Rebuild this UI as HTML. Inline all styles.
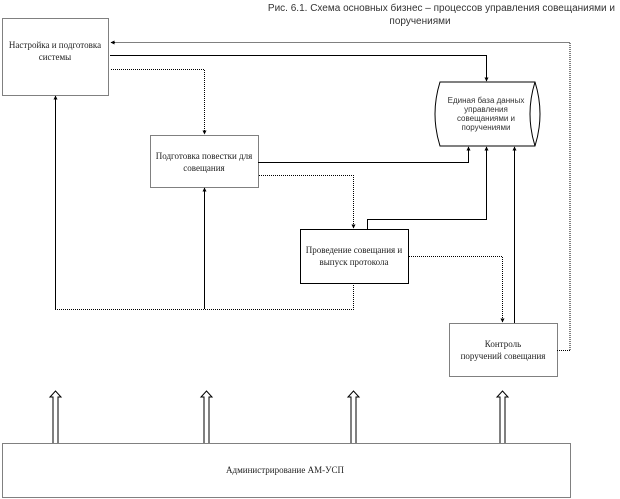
<!DOCTYPE html>
<html><head><meta charset="utf-8"><style>
html,body{margin:0;padding:0;background:#fff;width:620px;height:499px;overflow:hidden}
svg{display:block}
.s{font-family:"Liberation Serif","Noto Serif CJK SC",serif;font-size:9px;fill:#222}
.a{font-family:"Liberation Sans","Noto Sans CJK SC",sans-serif;font-size:10px;fill:#333}
</style></head><body>
<svg width="620" height="499" viewBox="0 0 620 499" xmlns="http://www.w3.org/2000/svg">
<defs><marker id="ar" markerWidth="4" markerHeight="4" refX="3.5" refY="2" orient="auto" markerUnits="userSpaceOnUse"><path d="M0,0 L4,2 L0,4 z" fill="#000"/></marker></defs>
<text class="a" x="615" y="11" text-anchor="end">Рис. 6.1. Схема основных бизнес – процессов управления совещаниями и</text>
<text class="a" x="420" y="24" text-anchor="middle">поручениями</text>
<g fill="none" stroke="#000">
<rect x="2.5" y="18.5" width="106" height="77" stroke-dasharray="1,1"/>
<rect x="150.5" y="135.5" width="108" height="52" stroke-dasharray="1,1"/>
<rect x="300.5" y="229.5" width="108" height="54"/>
<rect x="449.5" y="323.5" width="108" height="53" stroke-dasharray="1,1"/>
<rect x="2.5" y="443.5" width="568" height="54" stroke-dasharray="1,1"/>
<path d="M440,82 L535,82 Q545,114 535,146 L440,146 Q430,114 440,82 Z"/>
<path d="M535,82 Q525,114 535,146"/>
<path d="M570,350 L570,42.5 L111,42.5" stroke-dasharray="1,1" marker-end="url(#ar)"/>
<path d="M110,55.5 L486.5,55.5 L486.5,81" marker-end="url(#ar)"/>
<path d="M111,69.5 L204.5,69.5 L204.5,134" stroke-dasharray="1,1" marker-end="url(#ar)"/>
<path d="M258,162.5 L468.5,162.5 L468.5,147" marker-end="url(#ar)"/>
<path d="M259,175.5 L353.5,175.5 L353.5,228" stroke-dasharray="1,1" marker-end="url(#ar)"/>
<path d="M367.5,229 L367.5,219.5 L486.5,219.5 L486.5,147" marker-end="url(#ar)"/>
<path d="M514.5,323 L514.5,147" marker-end="url(#ar)"/>
<path d="M409,256.5 L502.5,256.5 L502.5,322" stroke-dasharray="1,1" marker-end="url(#ar)"/>
<path d="M557,350.5 L570,350.5" stroke-dasharray="1,1"/>
<path d="M55.5,309 L55.5,96" marker-end="url(#ar)"/>
<path d="M204.5,309 L204.5,188" marker-end="url(#ar)"/>
<path d="M55,309.5 L353.5,309.5 L353.5,283" stroke-dasharray="1,1"/>
</g>
<g fill="#fff" stroke="#000">
<path d="M53,443 L53,397 L50,397 L55.5,391 L61,397 L58,397 L58,443"/>
<path d="M204,443 L204,397 L201,397 L206.5,391 L212,397 L209,397 L209,443"/>
<path d="M351,443 L351,397 L348,397 L353.5,391 L359,397 L356,397 L356,443"/>
<path d="M500,443 L500,397 L497,397 L502.5,391 L508,397 L505,397 L505,443"/>
</g>
<text class="s" x="55" y="48" text-anchor="middle">Настройка и подготовка</text>
<text class="s" x="55" y="60" text-anchor="middle">системы</text>
<text class="s" x="204" y="159" text-anchor="middle">Подготовка повестки для</text>
<text class="s" x="204" y="171" text-anchor="middle">совещания</text>
<text class="s" x="354" y="253" text-anchor="middle">Проведение совещания и</text>
<text class="s" x="354" y="265" text-anchor="middle">выпуск протокола</text>
<text class="s" x="503" y="347" text-anchor="middle">Контроль</text>
<text class="s" x="503" y="359" text-anchor="middle">поручений совещания</text>
<text class="s" x="285" y="473" text-anchor="middle">Администрирование АМ-УСП</text>
<g class="a" style="font-size:8px" text-anchor="middle">
<text x="486" y="103">Единая база данных</text>
<text x="486" y="112">управления</text>
<text x="486" y="121">совещаниями и</text>
<text x="486" y="130">поручениями</text>
</g>
</svg>
</body></html>
